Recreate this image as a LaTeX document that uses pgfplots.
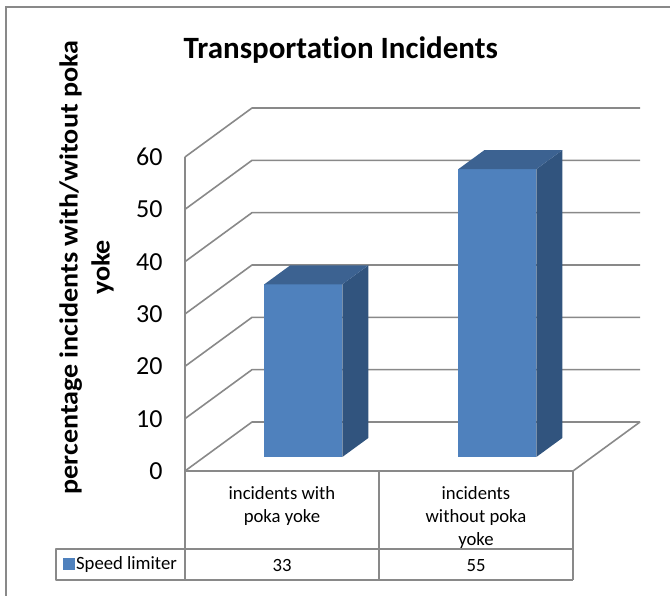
\documentclass[border=0pt]{standalone}
\usepackage{pgfplots}
\pgfplotsset{compat=1.18}
\usepackage{pgfplotstable}
\usepackage{fontspec}
\setmainfont{Carlito}[Ligatures=NoCommon]
\definecolor{frontc}{HTML}{4F81BD}
\definecolor{topc}{HTML}{3C6291}
\definecolor{sidec}{HTML}{31547E}
\definecolor{gridc}{HTML}{898989}

\pgfplotstableread{
k v
1 33
2 55
}\bardata

\pgfplotstableread{
a b
0 0
1 0
1 1
0 1
}\quadAB

\pgfplotstableread{
x y
0.5 0
0.8454 9.363
2.8454 9.363
}\gridshape

\def\FX{0.11}\def\FY{2.675}
\def\BW{0.402}\def\BDX{0.134}\def\BDY{3.63}

\newcommand\barfaces[2]{%
 \addplot[forget plot, draw=none, fill=frontc] table[x expr={#1+\FX-\BW/2+\BW*\thisrow{a}}, y expr={\FY+#2*\thisrow{b}}]{\quadAB};
 \addplot[forget plot, draw=none, fill=sidec] table[x expr={#1+\FX+\BW/2+\BDX*\thisrow{a}}, y expr={\FY+#2*\thisrow{b}+\BDY*\thisrow{a}}]{\quadAB};
 \addplot[forget plot, draw=none, fill=topc] table[x expr={#1+\FX-\BW/2+\BW*\thisrow{a}+\BDX*\thisrow{b}}, y expr={\FY+#2+\BDY*\thisrow{b}}]{\quadAB};
}

\begin{document}
\begin{tikzpicture}[x=1pt,y=1pt]
\useasboundingbox (0,0) rectangle (670,596);
\draw[gridc, line width=2pt] (6,0) -- (6,589) -- (670,589);
\pgfplotstablegetelem{0}{v}\of\bardata \edef\vA{\pgfplotsretval}
\pgfplotstablegetelem{1}{v}\of\bardata \edef\vB{\pgfplotsretval}
\begin{axis}[
  at={(185pt,125pt)}, anchor=south west,
  width=388pt, height=314pt, scale only axis,
  xmin=0.5, xmax=2.5, ymin=0, ymax=60,
  clip=false,
  axis line style={draw=none},
  xtick={1,2},
  xticklabels={{incidents with\\poka yoke},{incidents\\without poka\\yoke}},
  xticklabel style={align=center, anchor=north, yshift=-12pt, font=\fontsize{18.7}{23}\selectfont},
  ytick={0,10,...,60},
  major tick length=0pt,
  /pgf/number format/assume math mode=true,
  yticklabel style={xshift=-19pt, font=\fontsize{26}{31}\selectfont},
  title={Transportation Incidents},
  title style={at={(0.4014,1.296)}, anchor=base, font=\bfseries\fontsize{31}{37}\selectfont},
  ylabel={percentage incidents with/witout poka\\yoke},
  ylabel style={at={(-0.2539,0.648)}, anchor=center, align=center, xscale=1.08, font=\bfseries\fontsize{26}{32}\selectfont},
  legend style={at={(-0.3144,-0.2946)}, anchor=west, draw=none, fill=none, inner sep=0pt,
    font=\fontsize{18.7}{23}\selectfont, nodes={inner sep=2pt}},
  legend cell align=left,
]
% walls and gridlines
\pgfplotsinvokeforeach{0,10,...,60}{
  \addplot[forget plot, gridc, line width=1.6pt, line join=round] table[x=x, y expr=\thisrow{y}+#1]{\gridshape};
}
\addplot[forget plot, gridc, line width=1.6pt, line join=round] coordinates {(2.8454,9.363) (2.5,0) (0.5,0) (0.5,60)};
% data table lines
\addplot[forget plot, gridc, line width=1.6pt] coordinates {(0.5,0) (0.5,-20.83)};
\addplot[forget plot, gridc, line width=1.6pt] coordinates {(1.5,0) (1.5,-20.83)};
\addplot[forget plot, gridc, line width=1.6pt] coordinates {(2.5,0) (2.5,-20.83)};
\addplot[forget plot, gridc, line width=1.6pt, line join=round] coordinates {(2.5,-14.904) (-0.165,-14.904) (-0.165,-20.83) (2.5,-20.83)};
% bars
\barfaces{1}{\vA}
\barfaces{2}{\vB}
% values in the data table
\addplot[forget plot, draw=none, nodes near coords, point meta=explicit symbolic,
  every node near coord/.style={anchor=base, inner sep=0pt, font=\fontsize{18.7}{23}\selectfont}]
  table[x=k, y expr=-19.3, meta=v]{\bardata};
\addlegendimage{legend image code/.code={\fill[frontc] (0pt,-5.25pt) rectangle (10.5pt,5.25pt);}}
\addlegendentry{Speed limiter}
\end{axis}
\end{tikzpicture}
\end{document}
